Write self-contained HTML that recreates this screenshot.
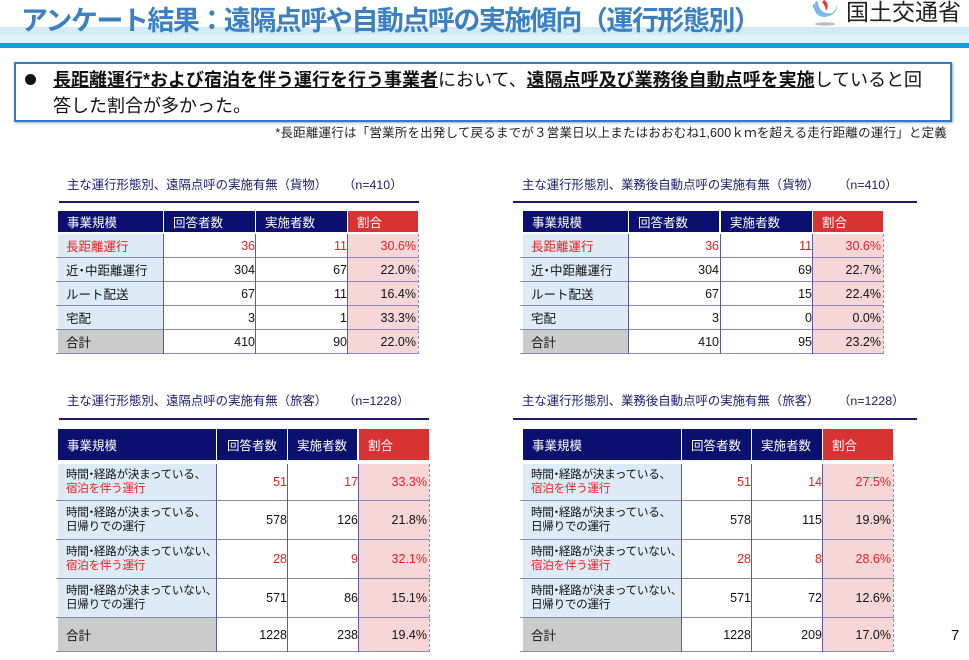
<!DOCTYPE html>
<html><head><meta charset="utf-8">
<style>
body{margin:0;width:969px;height:660px;position:relative;overflow:hidden;background:#fff;font-family:"Liberation Sans","Noto Sans CJK JP",sans-serif;}
.a{position:absolute;box-sizing:border-box;white-space:nowrap;}
.c{position:absolute;box-sizing:border-box;display:flex;align-items:center;font-size:12.5px;white-space:nowrap;color:#111;}
.hd{background:#0b0f6f;color:#fff;padding-left:9px;}
.hr{background:#d83333;color:#fff;padding-left:9px;}
.lb{background:#ddebf7;padding-left:8px;}
.gy{background:#cbcbcb;padding-left:8px;}
.nw{background:#fff;justify-content:flex-end;padding-right:1px;}
.pk{background:#f6d6d6;justify-content:flex-end;padding-right:2px;}
.red{color:#f01c1c;}
.hl{position:absolute;height:1px;background:#8a8ab8;}
.vl{position:absolute;width:1px;background:#5c5c9e;}
.dr{position:absolute;width:0;border-left:1px dashed #8a8ac8;}
.tl{position:absolute;height:2px;background:#1b1b6b;}
.tt{position:absolute;font-size:12.4px;color:#1b1b6b;white-space:nowrap;line-height:16px;}
.two{font-size:11.6px;line-height:13.5px;display:block;padding-top:4px;letter-spacing:-0.3px;overflow:hidden;}
.nd{display:inline-block;margin:0 -3px;}
.cm{display:inline-block;margin-right:-5px;}
</style></head><body>

<!-- header -->
<div class="a" style="left:0;top:27px;width:969px;height:8px;background:#d5eaf7;"></div>
<div class="a" style="left:0;top:35px;width:969px;height:8px;background:#e4f2fb;"></div>
<div class="a" style="left:0;top:43px;width:969px;height:5px;background:#14a0d6;"></div>
<div class="a" style="left:21px;top:3px;font-size:27px;line-height:36px;font-weight:bold;color:#3b80c3;letter-spacing:-1.5px;">アンケート結果：遠隔点呼や自動点呼の実施傾向（運行形態別）</div>

<svg class="a" style="left:808px;top:0;" width="36" height="28" viewBox="0 0 36 28">
<ellipse cx="17" cy="24" rx="10" ry="1.8" fill="#bbbbbb"/>
<path d="M5 4 A12 12 0 0 0 29 4 A10 10 0 0 1 8 7 Z" fill="#3a8fd8"/>
<path d="M8 1 A9 9 0 0 0 24 13 A11 11 0 0 1 10 2 Z" fill="#7bb8ea"/>
<path d="M16 0 Q22 3 18 11 Q17 5 14 2 Z" fill="#e33"/>
</svg>
<div class="a" style="left:846px;top:0;font-size:23px;line-height:24px;color:#222;">国土交通省</div>

<!-- summary box -->
<div class="a" style="left:14px;top:62px;width:938px;height:60px;border:2px solid #2d7bc9;box-shadow:1px 1px 2px #9ab;"></div>
<div class="a" style="left:25px;top:74px;width:11px;height:11px;border-radius:50%;background:#111;"></div>
<div class="a" style="left:53px;top:67px;font-size:18px;line-height:26px;color:#111;white-space:normal;width:890px;"><span style="text-decoration:underline;font-weight:bold;">長距離運行*および宿泊を伴う運行を行う事業者</span>において、<span style="text-decoration:underline;font-weight:bold;">遠隔点呼及び業務後自動点呼を実施</span>していると回<br>答した割合が多かった。</div>
<div class="a" style="right:22px;top:125px;font-size:12.5px;line-height:16px;color:#222;letter-spacing:0.2px;">*長距離運行は「営業所を出発して戻るまでが３営業日以上またはおおむね1,600ｋｍを超える走行距離の運行」と定義</div>

<!-- TL -->
<div class="tt" style="left:67px;top:177px;">主な運行形態別、遠隔点呼の実施有無（貨物）</div>
<div class="tt" style="left:343px;top:177px;">（n=410）</div>
<div class="tl" style="left:59px;top:201px;width:360px;"></div>
<div class="c hd" style="left:58px;top:211px;width:105px;height:21px;">事業規模</div>
<div class="c hd" style="left:164px;top:211px;width:91px;height:21px;">回答者数</div>
<div class="c hd" style="left:256px;top:211px;width:91px;height:21px;">実施者数</div>
<div class="c hr" style="left:348px;top:211px;width:70px;height:21px;">割合</div>

<div class="c lb red" style="left:58px;top:234px;width:106px;height:23px;">長距離運行</div>
<div class="c nw red" style="left:164px;top:234px;width:92px;height:23px;">36</div>
<div class="c nw red" style="left:256px;top:234px;width:92px;height:23px;">11</div>
<div class="c pk red" style="left:348px;top:234px;width:70px;height:23px;">30.6%</div>

<div class="c lb" style="left:58px;top:258px;width:106px;height:23px;">近<span class="nd">・</span>中距離運行</div>
<div class="c nw" style="left:164px;top:258px;width:92px;height:23px;">304</div>
<div class="c nw" style="left:256px;top:258px;width:92px;height:23px;">67</div>
<div class="c pk" style="left:348px;top:258px;width:70px;height:23px;">22.0%</div>

<div class="c lb" style="left:58px;top:282px;width:106px;height:23px;">ルート配送</div>
<div class="c nw" style="left:164px;top:282px;width:92px;height:23px;">67</div>
<div class="c nw" style="left:256px;top:282px;width:92px;height:23px;">11</div>
<div class="c pk" style="left:348px;top:282px;width:70px;height:23px;">16.4%</div>

<div class="c lb" style="left:58px;top:306px;width:106px;height:23px;">宅配</div>
<div class="c nw" style="left:164px;top:306px;width:92px;height:23px;">3</div>
<div class="c nw" style="left:256px;top:306px;width:92px;height:23px;">1</div>
<div class="c pk" style="left:348px;top:306px;width:70px;height:23px;">33.3%</div>

<div class="c gy" style="left:58px;top:330px;width:106px;height:23px;">合計</div>
<div class="c nw" style="left:164px;top:330px;width:92px;height:23px;">410</div>
<div class="c nw" style="left:256px;top:330px;width:92px;height:23px;">90</div>
<div class="c pk" style="left:348px;top:330px;width:70px;height:23px;">22.0%</div>

<div class="hl" style="left:56px;top:257px;width:363px;"></div>
<div class="hl" style="left:56px;top:281px;width:363px;"></div>
<div class="hl" style="left:56px;top:305px;width:363px;"></div>
<div class="hl" style="left:56px;top:329px;width:363px;"></div>
<div class="hl" style="left:56px;top:353px;width:363px;"></div>
<div class="vl" style="left:163px;top:234px;height:120px;"></div>
<div class="vl" style="left:255px;top:234px;height:120px;"></div>
<div class="vl" style="left:347px;top:234px;height:120px;"></div>
<div class="dr" style="left:418px;top:234px;height:120px;"></div>

<!-- TR -->
<div class="tt" style="left:522px;top:177px;">主な運行形態別、業務後自動点呼の実施有無（貨物）</div>
<div class="tt" style="left:838px;top:177px;">（n=410）</div>
<div class="tl" style="left:513px;top:201px;width:404px;"></div>
<div class="c hd" style="left:523px;top:211px;width:105px;height:21px;">事業規模</div>
<div class="c hd" style="left:629px;top:211px;width:90px;height:21px;">回答者数</div>
<div class="c hd" style="left:721px;top:211px;width:91px;height:21px;">実施者数</div>
<div class="c hr" style="left:813px;top:211px;width:70px;height:21px;">割合</div>

<div class="c lb red" style="left:523px;top:234px;width:106px;height:23px;">長距離運行</div>
<div class="c nw red" style="left:629px;top:234px;width:91px;height:23px;">36</div>
<div class="c nw red" style="left:720px;top:234px;width:93px;height:23px;">11</div>
<div class="c pk red" style="left:813px;top:234px;width:70px;height:23px;">30.6%</div>

<div class="c lb" style="left:523px;top:258px;width:106px;height:23px;">近<span class="nd">・</span>中距離運行</div>
<div class="c nw" style="left:629px;top:258px;width:91px;height:23px;">304</div>
<div class="c nw" style="left:720px;top:258px;width:93px;height:23px;">69</div>
<div class="c pk" style="left:813px;top:258px;width:70px;height:23px;">22.7%</div>

<div class="c lb" style="left:523px;top:282px;width:106px;height:23px;">ルート配送</div>
<div class="c nw" style="left:629px;top:282px;width:91px;height:23px;">67</div>
<div class="c nw" style="left:720px;top:282px;width:93px;height:23px;">15</div>
<div class="c pk" style="left:813px;top:282px;width:70px;height:23px;">22.4%</div>

<div class="c lb" style="left:523px;top:306px;width:106px;height:23px;">宅配</div>
<div class="c nw" style="left:629px;top:306px;width:91px;height:23px;">3</div>
<div class="c nw" style="left:720px;top:306px;width:93px;height:23px;">0</div>
<div class="c pk" style="left:813px;top:306px;width:70px;height:23px;">0.0%</div>

<div class="c gy" style="left:523px;top:330px;width:106px;height:23px;">合計</div>
<div class="c nw" style="left:629px;top:330px;width:91px;height:23px;">410</div>
<div class="c nw" style="left:720px;top:330px;width:93px;height:23px;">95</div>
<div class="c pk" style="left:813px;top:330px;width:70px;height:23px;">23.2%</div>

<div class="hl" style="left:520px;top:257px;width:364px;"></div>
<div class="hl" style="left:520px;top:281px;width:364px;"></div>
<div class="hl" style="left:520px;top:305px;width:364px;"></div>
<div class="hl" style="left:520px;top:329px;width:364px;"></div>
<div class="hl" style="left:520px;top:353px;width:364px;"></div>
<div class="vl" style="left:628px;top:234px;height:120px;"></div>
<div class="vl" style="left:720px;top:234px;height:120px;"></div>
<div class="vl" style="left:812px;top:234px;height:120px;"></div>
<div class="dr" style="left:883px;top:234px;height:120px;"></div>

<!-- BL -->
<div class="tt" style="left:67px;top:393px;">主な運行形態別、遠隔点呼の実施有無（旅客）</div>
<div class="tt" style="left:343px;top:393px;">（n=1228）</div>
<div class="tl" style="left:59px;top:418px;width:370px;"></div>
<div class="c hd" style="left:58px;top:429px;width:158px;height:31px;">事業規模</div>
<div class="c hd" style="left:217px;top:429px;width:70px;height:31px;padding-left:10px;">回答者数</div>
<div class="c hd" style="left:288px;top:429px;width:69px;height:31px;">実施者数</div>
<div class="c hr" style="left:359px;top:429px;width:70px;height:31px;">割合</div>

<div class="c lb two" style="left:58px;top:464px;width:158px;height:36px;">時間<span class="nd">・</span>経路が決まっている<span class="cm">、</span><br><span class="red">宿泊を伴う運行</span></div>
<div class="c nw red" style="left:217px;top:464px;width:71px;height:36px;">51</div>
<div class="c nw red" style="left:288px;top:464px;width:71px;height:36px;">17</div>
<div class="c pk red" style="left:359px;top:464px;width:70px;height:36px;">33.3%</div>

<div class="c lb two" style="left:58px;top:501px;width:158px;height:38px;padding-top:5px;">時間<span class="nd">・</span>経路が決まっている<span class="cm">、</span><br>日帰りでの運行</div>
<div class="c nw" style="left:217px;top:501px;width:71px;height:38px;">578</div>
<div class="c nw" style="left:288px;top:501px;width:71px;height:38px;">126</div>
<div class="c pk" style="left:359px;top:501px;width:70px;height:38px;">21.8%</div>

<div class="c lb two" style="left:58px;top:540px;width:158px;height:38px;padding-top:5px;">時間<span class="nd">・</span>経路が決まっていない<span class="cm">、</span><br><span class="red">宿泊を伴う運行</span></div>
<div class="c nw red" style="left:217px;top:540px;width:71px;height:38px;">28</div>
<div class="c nw red" style="left:288px;top:540px;width:71px;height:38px;">9</div>
<div class="c pk red" style="left:359px;top:540px;width:70px;height:38px;">32.1%</div>

<div class="c lb two" style="left:58px;top:579px;width:158px;height:38px;padding-top:5px;">時間<span class="nd">・</span>経路が決まっていない<span class="cm">、</span><br>日帰りでの運行</div>
<div class="c nw" style="left:217px;top:579px;width:71px;height:38px;">571</div>
<div class="c nw" style="left:288px;top:579px;width:71px;height:38px;">86</div>
<div class="c pk" style="left:359px;top:579px;width:70px;height:38px;">15.1%</div>

<div class="c gy" style="left:58px;top:618px;width:159px;height:33px;">合計</div>
<div class="c nw" style="left:217px;top:618px;width:71px;height:33px;">1228</div>
<div class="c nw" style="left:288px;top:618px;width:71px;height:33px;">238</div>
<div class="c pk" style="left:359px;top:618px;width:70px;height:33px;">19.4%</div>

<div class="hl" style="left:56px;top:500px;width:374px;"></div>
<div class="hl" style="left:56px;top:539px;width:374px;"></div>
<div class="hl" style="left:56px;top:578px;width:374px;"></div>
<div class="hl" style="left:56px;top:617px;width:374px;"></div>
<div class="hl" style="left:56px;top:651px;width:374px;"></div>
<div class="vl" style="left:216px;top:464px;height:188px;"></div>
<div class="vl" style="left:287px;top:464px;height:188px;"></div>
<div class="vl" style="left:358px;top:464px;height:188px;"></div>
<div class="dr" style="left:429px;top:464px;height:188px;"></div>

<!-- BR -->
<div class="tt" style="left:522px;top:393px;">主な運行形態別、業務後自動点呼の実施有無（旅客）</div>
<div class="tt" style="left:838px;top:393px;">（n=1228）</div>
<div class="tl" style="left:513px;top:418px;width:404px;"></div>
<div class="c hd" style="left:523px;top:429px;width:158px;height:31px;">事業規模</div>
<div class="c hd" style="left:682px;top:429px;width:69px;height:31px;">回答者数</div>
<div class="c hd" style="left:752px;top:429px;width:70px;height:31px;">実施者数</div>
<div class="c hr" style="left:823px;top:429px;width:70px;height:31px;">割合</div>

<div class="c lb two" style="left:523px;top:464px;width:158px;height:36px;">時間<span class="nd">・</span>経路が決まっている<span class="cm">、</span><br><span class="red">宿泊を伴う運行</span></div>
<div class="c nw red" style="left:682px;top:464px;width:70px;height:36px;">51</div>
<div class="c nw red" style="left:752px;top:464px;width:71px;height:36px;">14</div>
<div class="c pk red" style="left:823px;top:464px;width:70px;height:36px;">27.5%</div>

<div class="c lb two" style="left:523px;top:501px;width:158px;height:38px;padding-top:5px;">時間<span class="nd">・</span>経路が決まっている<span class="cm">、</span><br>日帰りでの運行</div>
<div class="c nw" style="left:682px;top:501px;width:70px;height:38px;">578</div>
<div class="c nw" style="left:752px;top:501px;width:71px;height:38px;">115</div>
<div class="c pk" style="left:823px;top:501px;width:70px;height:38px;">19.9%</div>

<div class="c lb two" style="left:523px;top:540px;width:158px;height:38px;padding-top:5px;">時間<span class="nd">・</span>経路が決まっていない<span class="cm">、</span><br><span class="red">宿泊を伴う運行</span></div>
<div class="c nw red" style="left:682px;top:540px;width:70px;height:38px;">28</div>
<div class="c nw red" style="left:752px;top:540px;width:71px;height:38px;">8</div>
<div class="c pk red" style="left:823px;top:540px;width:70px;height:38px;">28.6%</div>

<div class="c lb two" style="left:523px;top:579px;width:158px;height:38px;padding-top:5px;">時間<span class="nd">・</span>経路が決まっていない<span class="cm">、</span><br>日帰りでの運行</div>
<div class="c nw" style="left:682px;top:579px;width:70px;height:38px;">571</div>
<div class="c nw" style="left:752px;top:579px;width:71px;height:38px;">72</div>
<div class="c pk" style="left:823px;top:579px;width:70px;height:38px;">12.6%</div>

<div class="c gy" style="left:523px;top:618px;width:159px;height:33px;">合計</div>
<div class="c nw" style="left:682px;top:618px;width:70px;height:33px;">1228</div>
<div class="c nw" style="left:752px;top:618px;width:71px;height:33px;">209</div>
<div class="c pk" style="left:823px;top:618px;width:70px;height:33px;">17.0%</div>

<div class="hl" style="left:520px;top:500px;width:374px;"></div>
<div class="hl" style="left:520px;top:539px;width:374px;"></div>
<div class="hl" style="left:520px;top:578px;width:374px;"></div>
<div class="hl" style="left:520px;top:617px;width:374px;"></div>
<div class="hl" style="left:520px;top:651px;width:374px;"></div>
<div class="vl" style="left:681px;top:464px;height:188px;"></div>
<div class="vl" style="left:751px;top:464px;height:188px;"></div>
<div class="vl" style="left:822px;top:464px;height:188px;"></div>
<div class="dr" style="left:893px;top:464px;height:188px;"></div>

<div class="a" style="left:951px;top:627px;font-size:15px;line-height:18px;color:#111;">7</div>
</body></html>
